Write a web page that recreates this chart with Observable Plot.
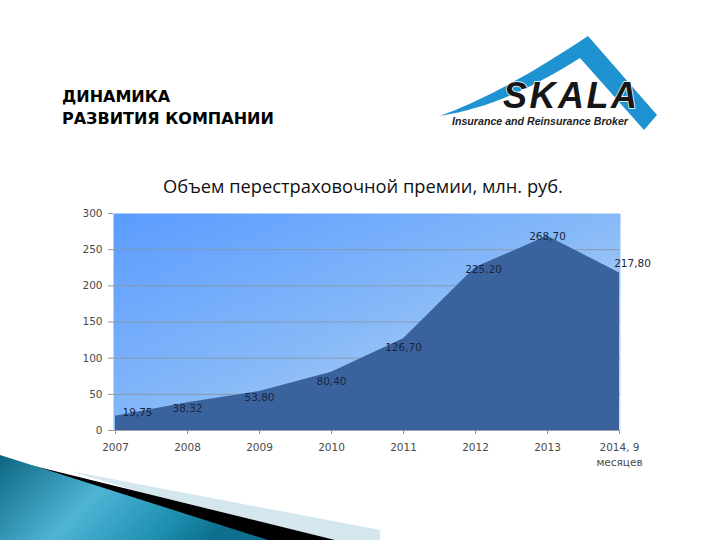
<!DOCTYPE html>
<html>
<head>
<meta charset="utf-8">
<script src="https://cdn.jsdelivr.net/npm/d3@7"></script>
<script src="https://cdn.jsdelivr.net/npm/@observablehq/plot@0.6"></script>
<style>
  body { margin: 0; background: #fff; }
  #slide { position: relative; width: 720px; height: 540px; overflow: hidden; background: #fff; }
  #deco { position: absolute; left: 0; top: 0; }
  #slideTitle { position: absolute; left: 62px; top: 86px; font-family: "DejaVu Sans", sans-serif; font-weight: bold; font-size: 16px; line-height: 22px; color: #000; }
  #chartTitle { position: absolute; left: 0; width: 726px; top: 173px; text-align: center; font-family: "Open Sans", sans-serif; font-size: 18.3px; color: #111; }
  #chart { position: absolute; left: 0; top: 0; }
</style>
</head>
<body>
<div id="slide">
  <svg id="deco" width="720" height="540" viewBox="0 0 720 540">
    <defs>
      <linearGradient id="teal" x1="0" y1="0" x2="1" y2="0.3">
        <stop offset="0" stop-color="#0b6680"/>
        <stop offset="0.45" stop-color="#4fb4d6"/>
        <stop offset="0.8" stop-color="#1e8fb0"/>
        <stop offset="1" stop-color="#0d6f8c"/>
      </linearGradient>
    </defs>
    <!-- bottom-left swoosh decoration -->
    <polygon points="70,471 380,530 380,540 300,540" fill="#d4e6ee"/>
    <polygon points="30,465 335,540 262,540" fill="#000"/>
    <polygon points="0,455 268,540 0,540" fill="url(#teal)"/>
    <!-- logo -->
    <path d="M440,116 C482,100 525,78 588,36 L657,115 L644,130 L580,58 C532,88 490,108 440,116 Z" fill="#1f92d2"/>
    <text x="503" y="108" font-family="Liberation Sans, Arial, sans-serif" font-weight="bold" font-style="italic" font-size="36" letter-spacing="2.5" fill="#161616" stroke="#fff" stroke-width="1.5" paint-order="stroke">SKALA</text>
    <text x="452" y="125" font-family="Liberation Sans, Arial, sans-serif" font-weight="bold" font-style="italic" font-size="11" fill="#222" textLength="176" lengthAdjust="spacingAndGlyphs">Insurance and Reinsurance Broker</text>
  </svg>
  <div id="slideTitle">ДИНАМИКА<br>РАЗВИТИЯ КОМПАНИИ</div>
  <div id="chartTitle">Объем перестраховочной премии, млн. руб.</div>
  <div id="chart"></div>
</div>
<script>
// Data
const periods = ["2007", "2008", "2009", "2010", "2011", "2012", "2013", "2014, 9\nмесяцев"];
const premiums = [19.75, 38.32, 53.80, 80.40, 126.70, 225.20, 268.70, 217.80];
const yTicks = [0, 50, 100, 150, 200, 250, 300];

const data = periods.map((p, i) => ({period: p, value: premiums[i]}));
const fmt = v => d3.format(".2f")(v).replace(".", ",");

const font = "DejaVu Sans, sans-serif";
const labelColor = "#1b2640";
const labelBase = {x: "period", y: "value", text: d => fmt(d.value), fill: labelColor, fontSize: 10.5, fontFamily: font};
const pick = names => d => names.includes(d.period);

const chart = Plot.plot({
  width: 720,
  height: 540,
  marginTop: 213,
  marginBottom: 110,
  marginLeft: 113,
  marginRight: 100,
  style: {background: "transparent", fontFamily: font, fontSize: "10.5px", color: "#4a4a4a"},
  x: {type: "point", domain: periods, padding: 0, label: null},
  y: {domain: [0, 300], ticks: yTicks, label: null},
  marks: [
    Plot.frame({fill: "url(#plotBg)", stroke: "none"}),
    Plot.ruleY(yTicks.filter(t => t > 0 && t < 300), {stroke: "#8a96a4", strokeWidth: 0.9}),
    Plot.areaY(data, {x: "period", y: "value", fill: "#3a639e", curve: "linear"}),
    Plot.ruleY([0], {stroke: "#9aa3ad", strokeWidth: 1}),
    Plot.text(data, {...labelBase, filter: pick(["2007"]), dx: 22, dy: -4}),
    Plot.text(data, {...labelBase, filter: pick(["2008", "2009"]), dy: 6}),
    Plot.text(data, {...labelBase, filter: pick(["2010", "2011"]), dy: 9}),
    Plot.text(data, {...labelBase, filter: pick(["2012"]), dx: 8, dy: 2}),
    Plot.text(data, {...labelBase, filter: pick(["2013"]), dy: 0}),
    Plot.text(data, {...labelBase, filter: d => d.period.startsWith("2014"), dx: 13, dy: -9}),
    Plot.axisY({ticks: yTicks, tickSize: 5, tickPadding: 6, stroke: "#9a9a9a", fill: "#4a4a4a", fontSize: 10.5}),
    Plot.axisX({tickSize: 4, tickPadding: 5, stroke: "#9a9a9a", fill: "#4a4a4a", fontSize: 10.5, lineHeight: 1.5})
  ]
});

const defs = d3.select(chart).insert("defs", ":first-child");
const g = defs.append("linearGradient").attr("id", "plotBg")
  .attr("x1", "0").attr("y1", "0").attr("x2", "1").attr("y2", "1");
g.append("stop").attr("offset", "0").attr("stop-color", "#5a9bff");
g.append("stop").attr("offset", "0.5").attr("stop-color", "#86b9f8");
g.append("stop").attr("offset", "1").attr("stop-color", "#cfe3f5");

document.getElementById("chart").appendChild(chart);
</script>
</body>
</html>
